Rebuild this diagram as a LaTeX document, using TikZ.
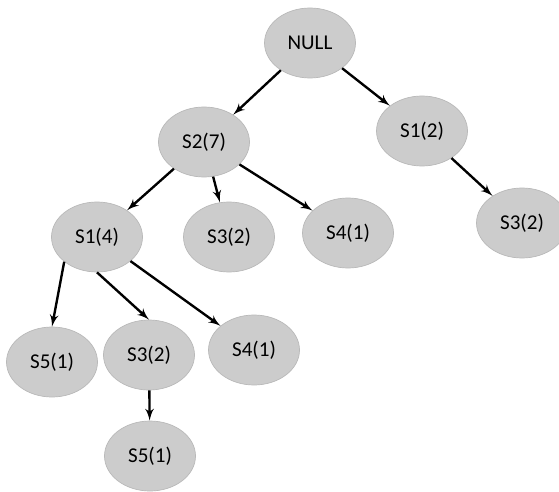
\documentclass[tikz,border=0pt]{standalone}
\usepackage{fontspec}
\setmainfont{Carlito}
\usetikzlibrary{arrows,shapes.geometric}
\tikzset{
    state/.style={ellipse,draw=gray!55,fill=gray!40,minimum width=1.82cm,minimum height=1.4cm,inner sep=0pt,font=\fontsize{12}{14}\selectfont},
    dedge/.style={->,> = latex',line width=1.35pt,draw=black},
}
\begin{document}
\begin{tikzpicture}
    \useasboundingbox (0,0) rectangle (11.18,-9.82);
    \node[state] (root) at (6.2,-0.86) {NULL};
    \node[state] (s2) at (4.08,-2.84) {S2(7)};
    \node[state] (s1r) at (8.44,-2.62) {S1(2)};
    \node[state] (s3r) at (10.44,-4.46) {S3(2)};
    \node[state] (s1) at (1.94,-4.74) {S1(4)};
    \node[state] (s3) at (4.58,-4.74) {S3(2)};
    \node[state] (s4) at (6.96,-4.66) {S4(1)};
    \node[state] (s5l) at (1.04,-7.24) {S5(1)};
    \node[state] (s3l) at (2.98,-7.10) {S3(2)};
    \node[state] (s4l) at (5.08,-7.00) {S4(1)};
    \node[state] (s5b) at (3.0,-9.12) {S5(1)};
    \draw[dedge] (root) -- (s2);
    \draw[dedge] (root) -- (s1r);
    \draw[dedge] (s1r) -- (s3r);
    \draw[dedge] (s2) -- (s1);
    \draw[dedge] (s2) -- (s3);
    \draw[dedge] (s2) -- (s4);
    \draw[dedge] (s1.217) -- (s5l.north);
    \draw[dedge] (s1.south) -- (s3l.north);
    \draw[dedge] (s1) -- (s4l);
    \draw[dedge] (s3l) -- (s5b);
\end{tikzpicture}
\end{document}
